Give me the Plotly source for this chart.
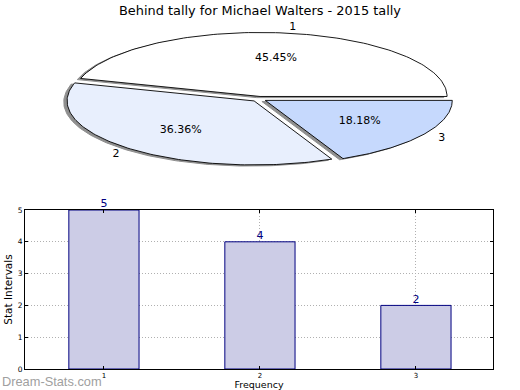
import numpy as np
import plotly.graph_objects as go

# ---- data ----
pie_labels = ["1", "2", "3"]
pie_values = [5, 4, 2]
pie_colors = ["#FFFFFF", "#E8EFFD", "#C6D9FD"]

bar_x = [1, 2, 3]
bar_values = [5, 4, 2]
bar_tick_labels = ["1", "2", "3"]

title = "Behind tally for Michael Walters - 2015 tally"
W, H = 520, 390
FONT = "DejaVu Sans"

fig = go.Figure()

# ---- pie (flattened, matplotlib-like with explode + shadow) ----
explode = 0.04
vals = np.array(pie_values, dtype=float)
fracs = vals / vals.sum()
edges = np.concatenate([[0.0], np.cumsum(fracs)]) * 2 * np.pi

def wedge(t0, t1, cx, cy):
    t = np.linspace(t0, t1, 120)
    xs = np.concatenate([[cx], cx + np.cos(t), [cx]])
    ys = np.concatenate([[cy], cy + np.sin(t), [cy]])
    return xs, ys

centers = []
for i in range(len(vals)):
    tm = 0.5 * (edges[i] + edges[i + 1])
    centers.append((explode * np.cos(tm), explode * np.sin(tm), tm))

# shadows first
for i in range(len(vals)):
    cx, cy, tm = centers[i]
    xs, ys = wedge(edges[i], edges[i + 1], cx - 0.018, cy - 0.018)
    fig.add_trace(go.Scatter(x=xs, y=ys, mode="lines", fill="toself",
                             fillcolor="#8f8f8f", line=dict(color="#8f8f8f", width=1),
                             xaxis="x2", yaxis="y2", hoverinfo="skip", showlegend=False))
for i in range(len(vals)):
    cx, cy, tm = centers[i]
    xs, ys = wedge(edges[i], edges[i + 1], cx, cy)
    fig.add_trace(go.Scatter(x=xs, y=ys, mode="lines", fill="toself",
                             fillcolor=pie_colors[i], line=dict(color="black", width=0.9),
                             xaxis="x2", yaxis="y2", hoverinfo="skip", showlegend=False))
# labels
for i in range(len(vals)):
    cx, cy, tm = centers[i]
    xt, yt = cx + 1.1 * np.cos(tm), cy + 1.1 * np.sin(tm)
    pos = "middle right" if xt > 0 else "middle left"
    fig.add_trace(go.Scatter(x=[xt], y=[yt], mode="text", text=[pie_labels[i]],
                             textposition=pos, textfont=dict(family=FONT, size=11, color="black"),
                             xaxis="x2", yaxis="y2", hoverinfo="skip", showlegend=False,
                             cliponaxis=False))
    xp, yp = cx + 0.6 * np.cos(tm), cy + 0.6 * np.sin(tm)
    fig.add_trace(go.Scatter(x=[xp], y=[yp], mode="text", text=["%.2f%%" % (fracs[i] * 100)],
                             textposition="middle center",
                             textfont=dict(family=FONT, size=11, color="black"),
                             xaxis="x2", yaxis="y2", hoverinfo="skip", showlegend=False,
                             cliponaxis=False))

# ---- bar chart ----
fig.add_trace(go.Bar(x=bar_x, y=bar_values, width=0.45,
                     marker=dict(color="#CCCCE6", line=dict(color="#000080", width=1)),
                     xaxis="x", yaxis="y", hoverinfo="skip", showlegend=False))
fig.add_trace(go.Scatter(x=bar_x, y=bar_values, mode="text",
                         text=[str(v) for v in bar_values], textposition="top center",
                         textfont=dict(family=FONT, size=11, color="#000080"),
                         xaxis="x", yaxis="y", hoverinfo="skip", showlegend=False,
                         cliponaxis=False))

fig.update_layout(
    width=W, height=H, autosize=False,
    margin=dict(l=0, r=0, t=0, b=0, pad=0),
    paper_bgcolor="white", plot_bgcolor="rgba(0,0,0,0)",
    font=dict(family=FONT, color="black"),
    title=dict(text=title, x=0.5, xanchor="center", y=1 - 10 / H, yanchor="middle",
               font=dict(family=FONT, size=12.9, color="black")),
    xaxis2=dict(domain=[0, 1], range=[-259 / 187, (W - 259) / 187], visible=False,
                anchor="y2", fixedrange=True, automargin=False),
    yaxis2=dict(domain=[0.5, 1], range=[-(195 - 99) / 64, 99 / 64], visible=False,
                anchor="x2", fixedrange=True, automargin=False),
    xaxis=dict(domain=[25 / W, 493 / W], range=[0.494, 3.494], anchor="y",
               automargin=False,
               tickvals=bar_x, ticktext=bar_tick_labels,
               showline=True, linecolor="black", linewidth=1, mirror="ticks",
               ticks="inside", ticklen=3, tickcolor="black",
               showgrid=True, gridcolor="#b0b0b0", griddash="1px,2px", gridwidth=1,
               tickfont=dict(family=FONT, size=7, color="black"),
               zeroline=False,
               title=dict(text="Frequency", standoff=9, font=dict(family=FONT, size=9.5))),
    yaxis=dict(domain=[(H - 369) / H, (H - 210) / H], range=[0, 5], anchor="x",
               automargin=False,
               tickvals=[0, 1, 2, 3, 4, 5],
               showline=True, linecolor="black", linewidth=1, mirror="ticks",
               ticks="inside", ticklen=3, tickcolor="black",
               showgrid=True, gridcolor="#b0b0b0", griddash="1px,2px", gridwidth=1,
               tickfont=dict(family=FONT, size=7.5, color="black"),
               zeroline=False,
               title=dict(text="Stat Intervals", standoff=3, font=dict(family=FONT, size=10.5))),
    annotations=[dict(text="Dream-Stats.com", xref="paper", yref="paper",
                      x=0, y=(H - 381) / H, xanchor="left", yanchor="middle",
                      showarrow=False,
                      font=dict(family="Liberation Sans", size=12.8, color="#a0a0a0"))],
)

fig.write_html("out.html", config={"displayModeBar": False},
               post_script="document.body.style.margin='0';")
